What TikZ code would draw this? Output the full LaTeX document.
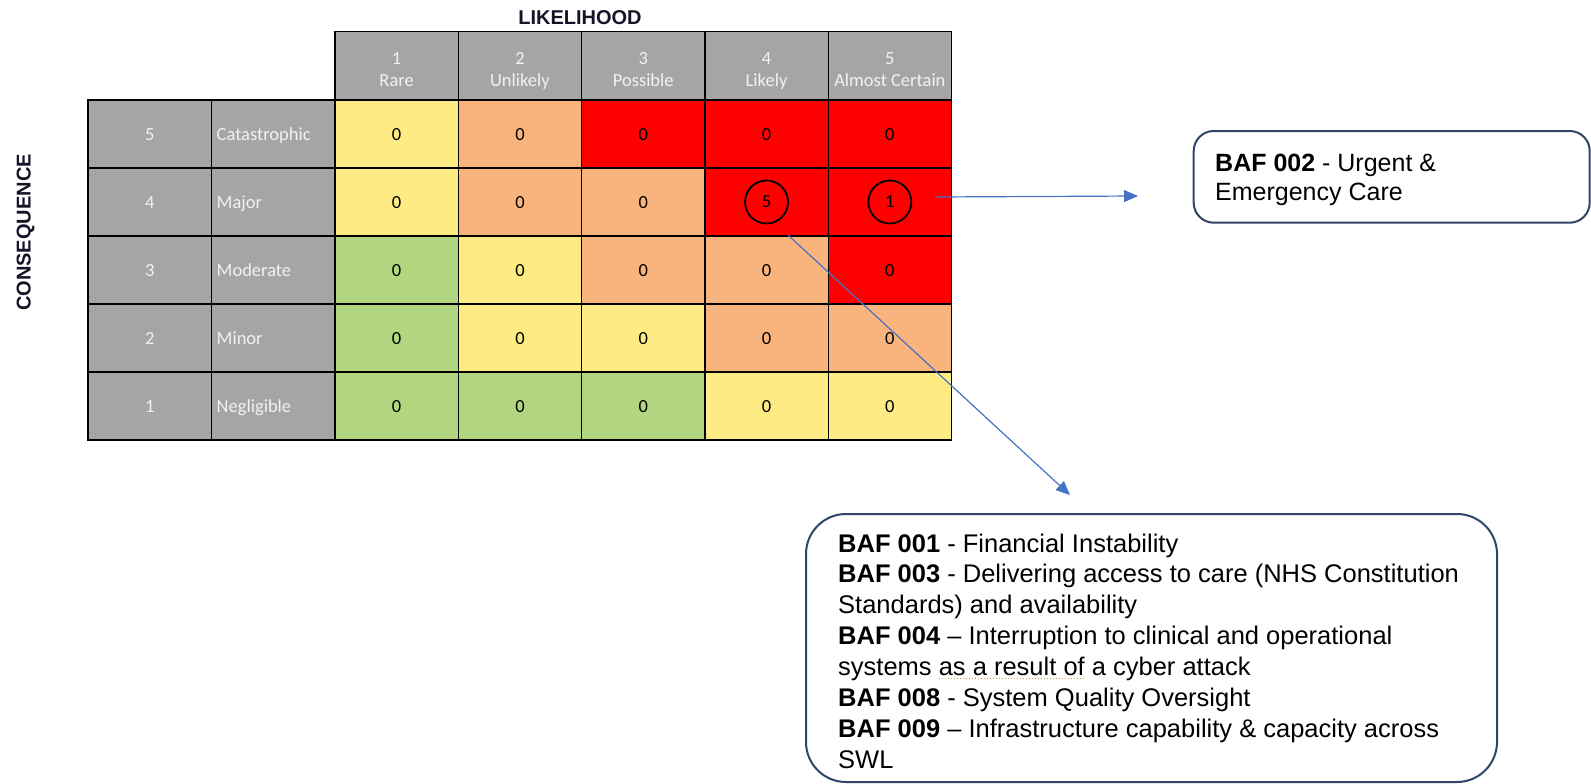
\documentclass[tikz,border=0pt]{standalone}
\usepackage{fontspec}
\setmainfont{Liberation Sans}
\newfontfamily\calfont{Carlito}
\usetikzlibrary{arrows.meta}
\definecolor{hdrgray}{HTML}{A5A5A5}
\definecolor{ryellow}{HTML}{FFEB84}
\definecolor{rorange}{HTML}{F8B47C}
\definecolor{rgreen}{HTML}{B2D580}
\definecolor{rred}{HTML}{FF0000}
\definecolor{arrowblue}{HTML}{4472C4}
\definecolor{boxnavy}{HTML}{2F4468}
\definecolor{lighttext}{HTML}{F2F2F2}
\definecolor{titleink}{HTML}{141428}
\definecolor{proofgold}{HTML}{C8A040}
\newcommand\topstrutA{\rule{0pt}{25.6pt}}
\newcommand\botstrutA{\rule[-6.7pt]{0pt}{6.7pt}}
\begin{document}
\begin{tikzpicture}[x=1pt,y=-1pt,
  cellbox/.style={draw=black, line width=1.4pt, minimum width=123.3pt, minimum height=68pt,
    inner sep=0pt, outer sep=0pt, anchor=north west, font=\calfont\fontsize{18.5}{22.3}\selectfont},
  hdrbox/.style={cellbox, fill=hdrgray, text=lighttext, align=center, minimum height=68.3pt},
  valbox/.style={cellbox, text height=13pt, text depth=0pt},
  rowbox/.style={valbox, fill=hdrgray, text=lighttext},
  lblbox/.style={rowbox, text width=113.3pt, inner xsep=5pt, align=left},
  ring/.style={circle, draw=black, line width=1.8pt, minimum size=43pt, inner sep=0pt, font=\calfont\fontsize{18.5}{20}\selectfont},
  title/.style={font=\bfseries\fontsize{20}{24}\selectfont, text=titleink},
  infobox/.style={draw=boxnavy, line width=2pt, anchor=north west, inner sep=0pt},
  infotext/.style={anchor=base west, align=left, inner sep=0pt},
  conn/.style={draw=arrowblue, line width=1.2pt, -{Triangle[length=14pt,width=12pt]}}
]
\useasboundingbox (0,0) rectangle (1591,784);

% titles
\node[title] (lik) at (580,18) {LIKELIHOOD};
\node[title, rotate=90] (cons) at (25.5,232.5) {CONSEQUENCE};

% header row
\foreach \j/\t in {1/{\topstrutA 1\\Rare\botstrutA},2/{\topstrutA 2\\Unlikely\botstrutA},3/{\topstrutA 3\\Possible\botstrutA},4/{\topstrutA 4\\Likely\botstrutA},5/{\topstrutA 5\\Almost Certain\botstrutA}}{
  \node[hdrbox] (h\j) at ({335+123.3*(\j-1)},31.7) {\t};
}

% row labels
\foreach \i/\n/\l in {1/5/Catastrophic,2/4/Major,3/3/Moderate,4/2/Minor,5/1/Negligible}{
  \node[rowbox, minimum width=123.7pt] (n\i) at (88,{100+68*(\i-1)}) {\n};
  \node[lblbox] (l\i) at (211.7,{100+68*(\i-1)}) {\l};
}

% matrix cells
\foreach \i/\j/\c/\v in {
  1/1/ryellow/0,1/2/rorange/0,1/3/rred/0,1/4/rred/0,1/5/rred/0,
  2/1/ryellow/0,2/2/rorange/0,2/3/rorange/0,2/4/rred/,2/5/rred/,
  3/1/rgreen/0,3/2/ryellow/0,3/3/rorange/0,3/4/rorange/0,3/5/rred/0,
  4/1/rgreen/0,4/2/ryellow/0,4/3/ryellow/0,4/4/rorange/0,4/5/rorange/0,
  5/1/rgreen/0,5/2/rgreen/0,5/3/rgreen/0,5/4/ryellow/0,5/5/ryellow/0}{
  \node[valbox, fill=\c] (c\i\j) at ({335+123.3*(\j-1)},{100+68*(\i-1)}) {\v};
}

% circled counts
\node[ring] (r24) at (c24.center) {5};
\node[ring] (r25) at (c25.center) {1};

% info boxes
\node[infobox, rounded corners=20pt, minimum width=396pt, minimum height=91.7pt] (box1) at (1192.7,130) {};
\node[infotext, font=\fontsize{25}{29}\selectfont] (txt1) at (1215,200) {\textbf{BAF 002} - Urgent \&\\Emergency Care};

\node[infobox, rounded corners=40pt, minimum width=691pt, minimum height=268pt] (box2) at (805,513) {};
\node[infotext, font=\fontsize{25.5}{30.9}\selectfont] (txt2) at (838,768.3) {\textbf{BAF 001} - Financial Instability\\
\textbf{BAF 003} - Delivering access to care (NHS Constitution\\
Standards) and availability\\
\textbf{BAF 004} -- Interruption to clinical and operational\\
systems as a result of a cyber attack\\
\textbf{BAF 008} - System Quality Oversight\\
\textbf{BAF 009} -- Infrastructure capability \& capacity across\\
SWL};
\coordinate (pu1) at (939,678);
\coordinate (pu2) at (1086,678);
\draw[proofgold, line width=1pt, dotted] (pu1) -- (pu2);

% connectors
\coordinate (a1s) at (935,197);
\coordinate (a1e) at (1138,196);
\draw[conn] (a1s) -- (a1e);
\coordinate (a2s) at (788,235);
\coordinate (a2e) at (1070,495);
\draw[conn] (a2s) -- (a2e);
\end{tikzpicture}
\end{document}
